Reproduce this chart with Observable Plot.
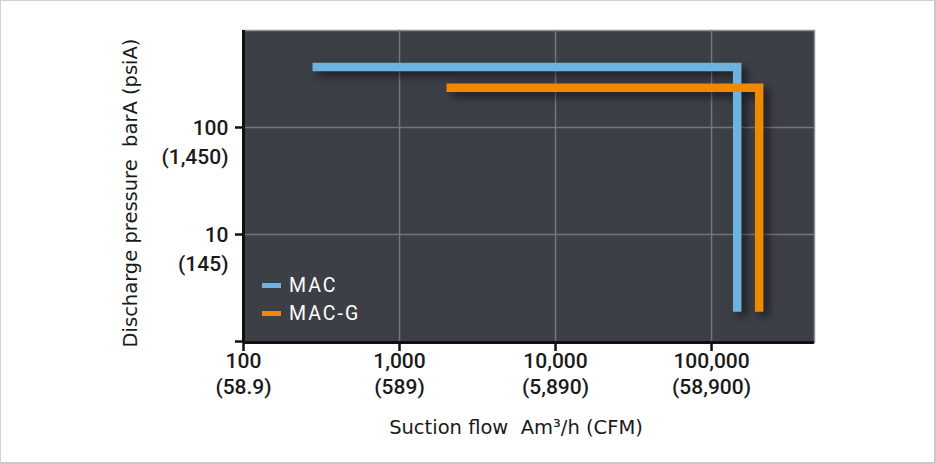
<!DOCTYPE html>
<html>
<head>
<meta charset="utf-8">
<script src="https://cdn.jsdelivr.net/npm/d3@7"></script>
<script src="https://cdn.jsdelivr.net/npm/@observablehq/plot@0.6"></script>
<style>
  html, body { margin: 0; padding: 0; background: #fff; }
  #wrap { position: relative; width: 936px; height: 464px; overflow: hidden; background: #fff; }
  #border { position: absolute; left: 0; top: 0; width: 936px; height: 464px; box-sizing: border-box;
    border-top: 1px solid #d0d0d0; border-left: 1px solid #d0d0d0; border-right: 2px solid #c8c8c8; border-bottom: 2px solid #c8c8c8; pointer-events: none; }
  .title { position: absolute; font-family: "DejaVu Sans", sans-serif; font-size: 19.5px; color: #1a1a1a; white-space: pre; }
  #xtitle { left: 516px; top: 427px; transform: translate(-50%, -50%); }
  #ytitle { left: 130px; top: 193px; transform: translate(-50%, -50%) rotate(-90deg); }
  .leg { position: absolute; left: 262px; font-family: Roboto, sans-serif; font-size: 19.5px; color: #fff; letter-spacing: 2px; }
  .leg span.sw { position: absolute; left: 0; width: 19px; height: 5px; top: 50%; margin-top: -2.5px; }
  .leg span.tx { position: absolute; left: 27px; top: 50%; transform: translateY(-50%); white-space: nowrap; }
</style>
</head>
<body>
<div id="wrap">
  <div id="chart"></div>
  <div id="xtitle" class="title">Suction flow  Am³/h (CFM)</div>
  <div id="ytitle" class="title">Discharge pressure  barA (psiA)</div>
  <div id="legend"></div>
  <div id="border"></div>
</div>
<script>
// ---- data ----
const seriesNames = ["MAC", "MAC-G"];
const seriesColors = ["#6cb4dd", "#f08800"];
const macFlow = [277, 146000, 146000];
const macPressure = [367, 367, 1.9];
const macgFlow = [2000, 202000, 202000];
const macgPressure = [235, 235, 1.9];

const xTicks = [100, 1000, 10000, 100000];
const xTickLabels = ["100", "1,000", "10,000", "100,000"];
const xTickSubLabels = ["(58.9)", "(589)", "(5,890)", "(58,900)"];
const yTicks = [1, 10, 100];
const yLabelTicks = [10, 100];
const yTickLabels = ["10", "100"];
const yTickSubLabels = ["(145)", "(1,450)"];

const xDomain = [100, 457000];
const yDomain = [0.979, 806];

const rows = [];
macFlow.forEach((f, i) => rows.push({series: seriesNames[0], flow: f, p: macPressure[i]}));
macgFlow.forEach((f, i) => rows.push({series: seriesNames[1], flow: f, p: macgPressure[i]}));

const xIdx = xTicks.map((d, i) => i);
const yIdx = yLabelTicks.map((d, i) => i);

const tickFont = "Roboto, sans-serif";
const tickSize = 21;
const chart = Plot.plot({
  width: 936,
  height: 464,
  marginLeft: 243,
  marginRight: 122,
  marginTop: 30,
  marginBottom: 122,
  style: {background: "transparent", overflow: "visible"},
  x: {type: "log", domain: xDomain, axis: null},
  y: {type: "log", domain: yDomain, axis: null},
  color: {domain: seriesNames, range: seriesColors},
  marks: [
    Plot.frame({fill: "#3c3f46", stroke: "#8d8f93", strokeWidth: 1.5}),
    Plot.gridX(xTicks.slice(1), {stroke: "#74767b", strokeOpacity: 1, strokeWidth: 1.5}),
    Plot.gridY(yLabelTicks, {stroke: "#74767b", strokeOpacity: 1, strokeWidth: 1.5}),
    Plot.line(rows, {x: "flow", y: "p", z: "series", stroke: "series", strokeWidth: 8.5,
      strokeLinejoin: "miter", strokeLinecap: "butt", strokeMiterlimit: 10}),
    Plot.ruleX([xDomain[0]], {stroke: "#111", strokeWidth: 3}),
    Plot.ruleY([yDomain[0]], {stroke: "#111", strokeWidth: 3}),
    Plot.axisX({ticks: xTicks, tickSize: 9, tickFormat: () => "", label: null, stroke: "#111", strokeWidth: 2.5}),
    Plot.axisY({ticks: yTicks, tickSize: 8, tickFormat: () => "", label: null, stroke: "#111", strokeWidth: 2.5}),
    Plot.text(xIdx, {x: i => xTicks[i], text: i => xTickLabels[i], frameAnchor: "bottom", dy: 25.5,
      fontSize: tickSize, fontWeight: 500, fontFamily: tickFont, fill: "#1a1a1a"}),
    Plot.text(xIdx, {x: i => xTicks[i], text: i => xTickSubLabels[i], frameAnchor: "bottom", dy: 51,
      fontSize: tickSize, fontWeight: 500, fontFamily: tickFont, fill: "#1a1a1a"}),
    Plot.text(yIdx, {y: i => yLabelTicks[i], text: i => yTickLabels[i], frameAnchor: "left", textAnchor: "end", dx: -15, dy: 1,
      fontSize: tickSize, fontWeight: 500, fontFamily: tickFont, fill: "#1a1a1a"}),
    Plot.text(yIdx, {y: i => yLabelTicks[i], text: i => yTickSubLabels[i], frameAnchor: "left", textAnchor: "end", dx: -15, dy: 30,
      fontSize: tickSize, fontWeight: 500, fontFamily: tickFont, fill: "#1a1a1a"})
  ]
});
document.getElementById("chart").appendChild(chart);
d3.select(chart).selectAll('g[aria-label="line"]').style("filter", "drop-shadow(5px 5px 4px rgba(0,0,0,0.55))");

// legend
const legTops = [285, 313];
const legend = document.getElementById("legend");
seriesNames.forEach((name, i) => {
  const d = document.createElement("div");
  d.className = "leg";
  d.style.top = (legTops[i] - 12) + "px";
  d.style.height = "24px";
  d.innerHTML = `<span class="sw" style="background:${seriesColors[i]}"></span><span class="tx">${name}</span>`;
  legend.appendChild(d);
});
</script>
</body>
</html>
